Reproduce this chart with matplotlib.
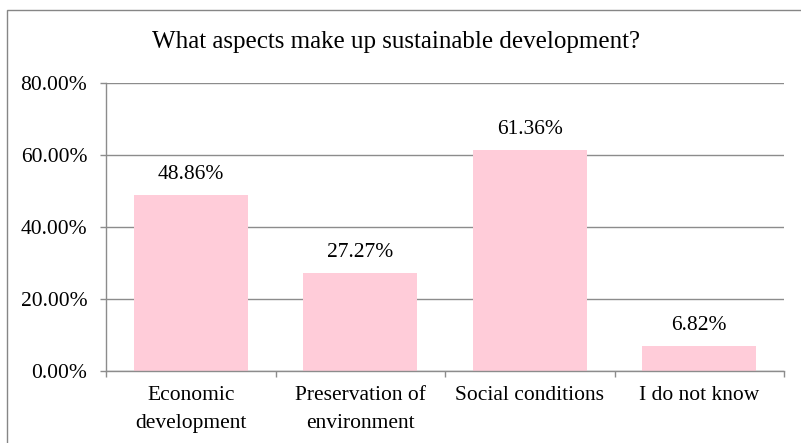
import matplotlib.pyplot as plt
from matplotlib.patches import Rectangle

# data
categories = ['Economic\ndevelopment', 'Preservation of\nenvironment', 'Social conditions', 'I do not know']
values = [48.86, 27.27, 61.36, 6.82]
title = 'What aspects make up sustainable development?'

plt.rcParams['font.family'] = ['Liberation Serif', 'DejaVu Serif']

fig = plt.figure(figsize=(8.01, 4.43), dpi=100)
W, H = 801, 443
ax = fig.add_axes([106 / W, 1 - 371 / H, (784 - 106) / W, (371 - 83) / H])

# outer chart border (only left/top visible in the crop)
fig.patches.append(Rectangle((7 / W, -0.1), 1.2, 1 - 10 / H + 0.1, transform=fig.transFigure,
                             fill=False, edgecolor='#868686', linewidth=1.0))

grid_c = '#8c8c8c'
fs = 15.5
x = range(len(categories))
bars = ax.bar(x, values, width=0.67, color='#ffccd9', zorder=2)

for b, v in zip(bars, values):
    ax.annotate(f'{v:.2f}%', (b.get_x() + b.get_width() / 2, v), xytext=(0, 8),
                textcoords='offset points', ha='center', va='bottom', fontsize=fs)

ax.set_xlim(-0.5, len(categories) - 0.5)
ax.set_ylim(0, 80)
ax.set_yticks([0, 20, 40, 60, 80])
ax.set_yticklabels([f'{t:.2f}%' for t in [0, 20, 40, 60, 80]], fontsize=fs)
ax.yaxis.grid(True, color=grid_c, linewidth=1.0, zorder=0)
ax.set_axisbelow(True)

ax.set_xticks(list(x))
ax.set_xticklabels(categories, fontsize=fs, linespacing=1.65)
ax.set_xticks([i + 0.5 for i in range(-1, len(categories))], minor=True)
ax.tick_params(axis='x', which='major', length=0, pad=11)
ax.tick_params(axis='x', which='minor', length=4.5, color=grid_c, width=1.0)
ax.tick_params(axis='y', length=4.5, color=grid_c, width=1.0, pad=9)

for s in ['top', 'right']:
    ax.spines[s].set_visible(False)
for s in ['left', 'bottom']:
    ax.spines[s].set_color(grid_c)
    ax.spines[s].set_linewidth(1.0)

fig.text(396 / W, 1 - 42 / H, title, ha='center', va='center', fontsize=18)

fig.savefig('out.png', dpi=100)
